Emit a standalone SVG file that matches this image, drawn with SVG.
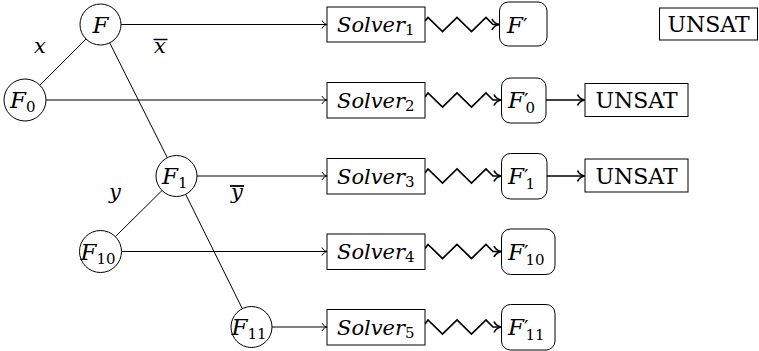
<svg xmlns="http://www.w3.org/2000/svg" width="759" height="351" viewBox="0 0 759 351">
<style>
  .n { fill: #fff; stroke: #000; stroke-width: 1; }
  .e { fill: none; stroke: #000; stroke-width: 1; }
  .t { fill: none; stroke: #000; stroke-width: 1; marker-end: url(#to); }
  .z { fill: none; stroke: #000; stroke-width: 1.7; stroke-linejoin: miter; marker-end: url(#tob); }
  text { font-family: 'DejaVu Serif', serif; fill: #000; }
  .it { font-style: italic; font-size: 21px; }
  .f { font-style: italic; font-size: 23px; }
  .rm { font-size: 22px; }
  .sub { font-size: 15px; font-style: normal; }
  .pr { font-size: 20px; font-style: normal; }
</style>
<defs>
  <marker id="to" viewBox="-6 -5 7 10" markerWidth="7" markerHeight="10" refX="0" refY="0" orient="auto" markerUnits="userSpaceOnUse">
    <path d="M-5,-4 C-4,-1.5 -1.2,-0.3 0,0 C-1.2,0.3 -4,1.5 -5,4" fill="none" stroke="#000" stroke-width="1"/>
  </marker>
  <marker id="tob" viewBox="-9 -7 10 14" markerWidth="10" markerHeight="14" refX="0" refY="0" orient="auto" markerUnits="userSpaceOnUse">
    <path d="M-7,-5.5 C-5.5,-2 -1.6,-0.4 0,0 C-1.6,0.4 -5.5,2 -7,5.5" fill="none" stroke="#000" stroke-width="1.7"/>
  </marker>
</defs>

<g id="connectors">
  <line class="e" x1="86" y1="39" x2="39.8" y2="85.2"/>
  <line class="e" x1="109.7" y1="42.8" x2="167.3" y2="157.7"/>
  <line class="e" x1="162" y1="190.5" x2="115.3" y2="236.7"/>
  <line class="e" x1="185.7" y1="194.3" x2="242.3" y2="308.7"/>
  <line class="t" x1="121" y1="24.5" x2="327" y2="24.5"/>
  <line class="t" x1="46" y1="100" x2="327" y2="100"/>
  <line class="t" x1="197" y1="176" x2="327" y2="176"/>
  <line class="t" x1="121.5" y1="251.5" x2="327" y2="251.5"/>
  <line class="t" x1="272" y1="327" x2="327" y2="327"/>
  <polyline class="z" points="425,21 428,17.5 442.5,31.5 457,17.5 471.5,31.5 486,17.5 493,24.5 499,24.5"/>
  <polyline class="z" points="425,97 428,93 442.5,107 457,93 471.5,107 486,93 493,100 501,100"/>
  <polyline class="z" points="425,173 428,169 442.5,183 457,169 471.5,183 486,169 493,176 501,176"/>
  <polyline class="z" points="425,248.5 428,244.5 442.5,258.5 457,244.5 471.5,258.5 486,244.5 493,251.5 501,251.5"/>
  <polyline class="z" points="425,324 428,320 442.5,334 457,320 471.5,334 486,320 493,327 501,327"/>
  <line class="z" x1="546" y1="100" x2="584.5" y2="100"/>
  <line class="z" x1="547" y1="176" x2="584.5" y2="176"/>
  <g id="labels">
    <text class="it" x="40" y="53" text-anchor="middle">x</text>
    <text class="it" x="160" y="53" text-anchor="middle">x</text>
    <line x1="153.5" y1="39.5" x2="167.5" y2="39.5" stroke="#000" stroke-width="1.5"/>
    <text class="it" x="115" y="199" text-anchor="middle">y</text>
    <text class="it" x="237" y="199" text-anchor="middle">y</text>
    <line x1="230" y1="186" x2="244" y2="186" stroke="#000" stroke-width="1.8"/>
  </g>
</g>

<g id="F">
  <circle class="n" cx="100.5" cy="24.5" r="20.5"/>
  <text class="f" x="100.5" y="32.5" text-anchor="middle">F</text>
</g>
<g id="F0">
  <circle class="n" cx="25" cy="100" r="21"/>
  <text class="f" x="10" y="108">F<tspan class="sub" dy="4">0</tspan></text>
</g>
<g id="F1">
  <circle class="n" cx="176.5" cy="176" r="20.5"/>
  <text class="f" x="162" y="184">F<tspan class="sub" dy="4">1</tspan></text>
</g>
<g id="F10">
  <circle class="n" cx="100.5" cy="251.5" r="21"/>
  <text class="f" x="80.5" y="259.5">F<tspan class="sub" dy="4">10</tspan></text>
</g>
<g id="F11">
  <circle class="n" cx="251.5" cy="327" r="20.5"/>
  <text class="f" x="231.5" y="335">F<tspan class="sub" dy="4">11</tspan></text>
</g>

<g id="Solver1">
  <rect class="n" x="327" y="7" width="98" height="35"/>
  <text class="it" x="337" y="32">Solver<tspan class="sub" dy="3">1</tspan></text>
</g>
<g id="Solver2">
  <rect class="n" x="327" y="82.5" width="98" height="35.5"/>
  <text class="it" x="337" y="107.5">Solver<tspan class="sub" dy="3">2</tspan></text>
</g>
<g id="Solver3">
  <rect class="n" x="327" y="158.5" width="98" height="35.5"/>
  <text class="it" x="337" y="183.5">Solver<tspan class="sub" dy="3">3</tspan></text>
</g>
<g id="Solver4">
  <rect class="n" x="327" y="234" width="98" height="35.5"/>
  <text class="it" x="337" y="259">Solver<tspan class="sub" dy="3">4</tspan></text>
</g>
<g id="Solver5">
  <rect class="n" x="327" y="309.5" width="98" height="35.5"/>
  <text class="it" x="337" y="334.5">Solver<tspan class="sub" dy="3">5</tspan></text>
</g>

<g id="Fp">
  <rect class="n" x="499.5" y="2" width="47.5" height="44" rx="9"/>
  <text class="f" x="507" y="32.5">F<tspan class="pr">′</tspan></text>
</g>
<g id="F0p">
  <rect class="n" x="501.5" y="78" width="44.5" height="45" rx="9"/>
  <text class="f" x="508" y="108">F<tspan class="pr">′</tspan><tspan class="sub" dx="-3" dy="5">0</tspan></text>
</g>
<g id="F1p">
  <rect class="n" x="501.5" y="153.5" width="45.5" height="45.5" rx="9"/>
  <text class="f" x="508" y="184">F<tspan class="pr">′</tspan><tspan class="sub" dx="-3" dy="5">1</tspan></text>
</g>
<g id="F10p">
  <rect class="n" x="501.5" y="229" width="53.5" height="45.5" rx="9"/>
  <text class="f" x="508" y="259.5">F<tspan class="pr">′</tspan><tspan class="sub" dx="-3" dy="5">10</tspan></text>
</g>
<g id="F11p">
  <rect class="n" x="501.5" y="304.5" width="53.5" height="45.5" rx="9"/>
  <text class="f" x="508" y="335">F<tspan class="pr">′</tspan><tspan class="sub" dx="-3" dy="5">11</tspan></text>
</g>

<g id="UNSAT0">
  <rect class="n" x="659.5" y="8" width="98" height="32"/>
  <text class="rm" x="708.5" y="32" text-anchor="middle">UNSAT</text>
</g>
<g id="UNSAT1">
  <rect class="n" x="585" y="83.5" width="103" height="33"/>
  <text class="rm" x="636.5" y="108" text-anchor="middle">UNSAT</text>
</g>
<g id="UNSAT2">
  <rect class="n" x="585" y="159" width="103" height="33"/>
  <text class="rm" x="636.5" y="183.5" text-anchor="middle">UNSAT</text>
</g>
</svg>
